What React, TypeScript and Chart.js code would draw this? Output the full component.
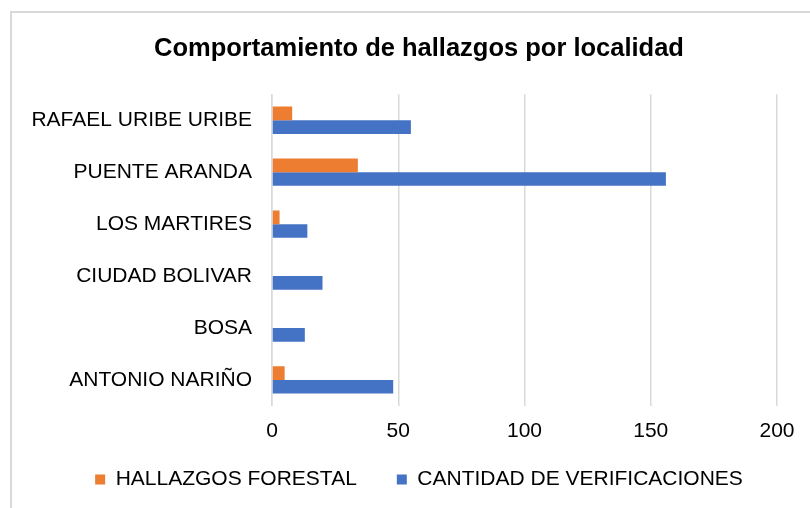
import React, { useEffect, useRef } from "react";
import { Chart, registerables } from "chart.js";

Chart.register(...registerables);

const categories = [
  "RAFAEL URIBE URIBE",
  "PUENTE ARANDA",
  "LOS MARTIRES",
  "CIUDAD BOLIVAR",
  "BOSA",
  "ANTONIO NARIÑO",
];
const hallazgosForestal = [8, 34, 3, 0, 0, 5];
const cantidadVerificaciones = [55, 156, 14, 20, 13, 48];
const xTickMin = 0;
const xTickMax = 200;
const xTickStep = 50;

const FONT = "'Liberation Sans', Arial, sans-serif";

export default function App() {
  const ref = useRef<HTMLCanvasElement | null>(null);

  useEffect(() => {
    if (!ref.current) return;
    const chart = new Chart(ref.current, {
      type: "bar",
      data: {
        labels: categories,
        datasets: [
          {
            label: "HALLAZGOS FORESTAL",
            data: hallazgosForestal,
            backgroundColor: "#ED7D31",
            xAxisID: "x",
            yAxisID: "y",
            barPercentage: 1,
            categoryPercentage: 0.526,
          },
          {
            label: "CANTIDAD DE VERIFICACIONES",
            data: cantidadVerificaciones,
            backgroundColor: "#4472C4",
            xAxisID: "x",
            yAxisID: "y",
            barPercentage: 1,
            categoryPercentage: 0.526,
          },
        ],
      },
      options: {
        indexAxis: "y",
        responsive: false,
        animation: false,
        layout: { padding: 0 },
        plugins: {
          title: {
            display: true,
            text: "Comportamiento de hallazgos por localidad",
            color: "#000",
            font: { family: FONT, size: 25.5, weight: "bold" },
            padding: { top: 20.2, bottom: 30.5 },
          },
          legend: {
            display: true,
            position: "bottom",
            align: "center",
            labels: {
              color: "#000",
              font: { family: FONT, size: 21 },
              boxWidth: 10,
              boxHeight: 10,
              padding: 40,
            },
          },
          tooltip: { enabled: false },
        },
        scales: {
          x: {
            type: "linear",
            position: "bottom",
            min: xTickMin,
            max: xTickMax,
            ticks: {
              stepSize: xTickStep,
              color: "#000",
              font: { family: FONT, size: 21 },
              mirror: true,
              padding: -38.4,
            },
            grid: {
              display: true,
              color: "#d9d9d9",
              lineWidth: 1.5,
              drawTicks: false,
            },
            border: { display: false },
            afterFit: (s: any) => {
              s.height = 23.1;
            },
          },
          y: {
            type: "category",
            position: "left",
            ticks: {
              color: "#000",
              font: { family: FONT, size: 21 },
              padding: 20,
            },
            grid: { display: false, drawTicks: false },
            border: { display: true, color: "#d9d9d9", width: 1.5 },
            afterFit: (s: any) => {
              s.width = 260;
            },
          },
          yRight: {
            type: "linear",
            position: "right",
            display: true,
            ticks: { display: false },
            grid: { display: false, drawTicks: false },
            border: { display: false },
            afterFit: (s: any) => {
              s.width = 49;
            },
          },
        },
      },
    });
    return () => chart.destroy();
  }, []);

  return (
    <div
      style={{
        position: "fixed",
        left: 0,
        top: 0,
        width: 810,
        height: 508,
        overflow: "hidden",
        background: "#fff",
      }}
    >
      <div
        style={{
          position: "absolute",
          left: 10,
          top: 11,
          width: 900,
          height: 600,
          borderLeft: "2px solid #d9d9d9",
          borderTop: "2px solid #d9d9d9",
        }}
      />
      <canvas
        ref={ref}
        width={814}
        height={487}
        style={{ position: "absolute", left: 12, top: 13, width: 814, height: 487 }}
      />
    </div>
  );
}
